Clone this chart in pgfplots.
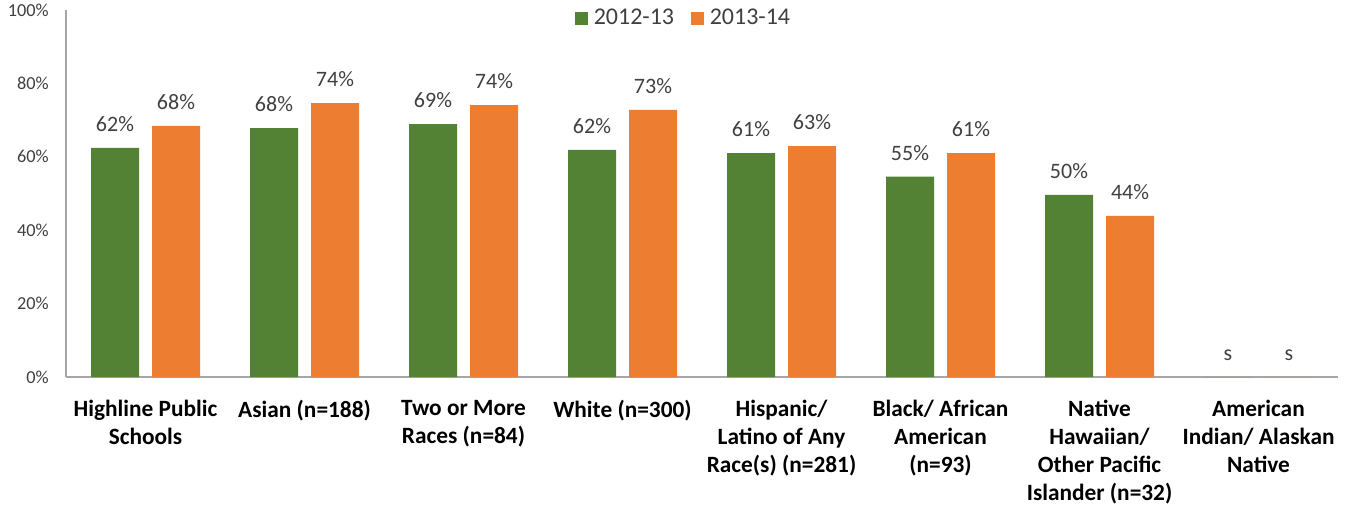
\documentclass[border=0pt]{standalone}
\usepackage{pgfplots}
\pgfplotsset{compat=1.18}
\usepackage{fontspec}
\setmainfont{Carlito}
\definecolor{cgreen}{HTML}{548235}
\definecolor{corange}{HTML}{ED7D31}
\definecolor{axgray}{HTML}{A6A6A6}
\definecolor{txtgray}{HTML}{404040}
\begin{document}
\begin{tikzpicture}
\begin{axis}[
  name=ax,
  scale only axis,
  width=954pt, height=275.25pt,
  ybar=9.75pt, bar width=36pt,
  xmin=-0.5, xmax=7.5,
  ymin=0, ymax=100,
  axis x line*=bottom, axis y line*=left,
  axis line style={axgray, line width=0.8pt},
  major tick length=0pt,
  xtick={0,...,7},
  xticklabels={Highline Public\\Schools, Asian (n=188), Two or More\\Races (n=84), White (n=300), Hispanic/\\Latino of Any\\Race(s) (n=281), Black/ African\\American\\(n=93), Native\\Hawaiian/\\Other Pacific\\Islander (n=32), American\\Indian/ Alaskan\\Native},
  xticklabel style={align=center, font=\fontsize{17.5}{21}\selectfont\bfseries, text=black, yshift=-14pt},
  ytick={0,20,40,60,80,100},
  yticklabels={0\%,20\%,40\%,60\%,80\%,100\%},
  yticklabel style={font=\fontsize{13.7}{16}\selectfont, text=txtgray, inner sep=0pt, xshift=-12.75pt},
  point meta=explicit symbolic,
  nodes near coords,
  nodes near coords style={font=\fontsize{16.5}{19}\selectfont, text=txtgray, anchor=south, inner sep=0pt, yshift=12pt},
  legend style={draw=none, at={(0.487,0.978)}, anchor=center, legend columns=2, font=\fontsize{18}{21}\selectfont, text=txtgray, nodes={inner xsep=4.5pt}, /tikz/every even column/.append style={column sep=8pt}},
  legend image code/.code={\fill[#1] (0pt,-4.9pt) rectangle (9.75pt,4.9pt);},
  clip=false,
]
\addplot[fill=cgreen, draw=none] coordinates {
  (0,62.4) [62\%] (1,67.8) [68\%] (2,68.9) [69\%] (3,61.9) [62\%]
  (4,61.0) [61\%] (5,54.6) [55\%] (6,49.6) [50\%] (7,0) [s]};
\addplot[fill=corange, draw=none] coordinates {
  (0,68.4) [68\%] (1,74.6) [74\%] (2,74.1) [74\%] (3,72.8) [73\%]
  (4,62.9) [63\%] (5,61.0) [61\%] (6,43.9) [44\%] (7,0) [s]};
\legend{2012-13, 2013-14}
\end{axis}
\path ([shift={(-49.5pt,-99.75pt)}]ax.south west) rectangle ([shift={(8.25pt,7.5pt)}]ax.north east);
\end{tikzpicture}
\end{document}
